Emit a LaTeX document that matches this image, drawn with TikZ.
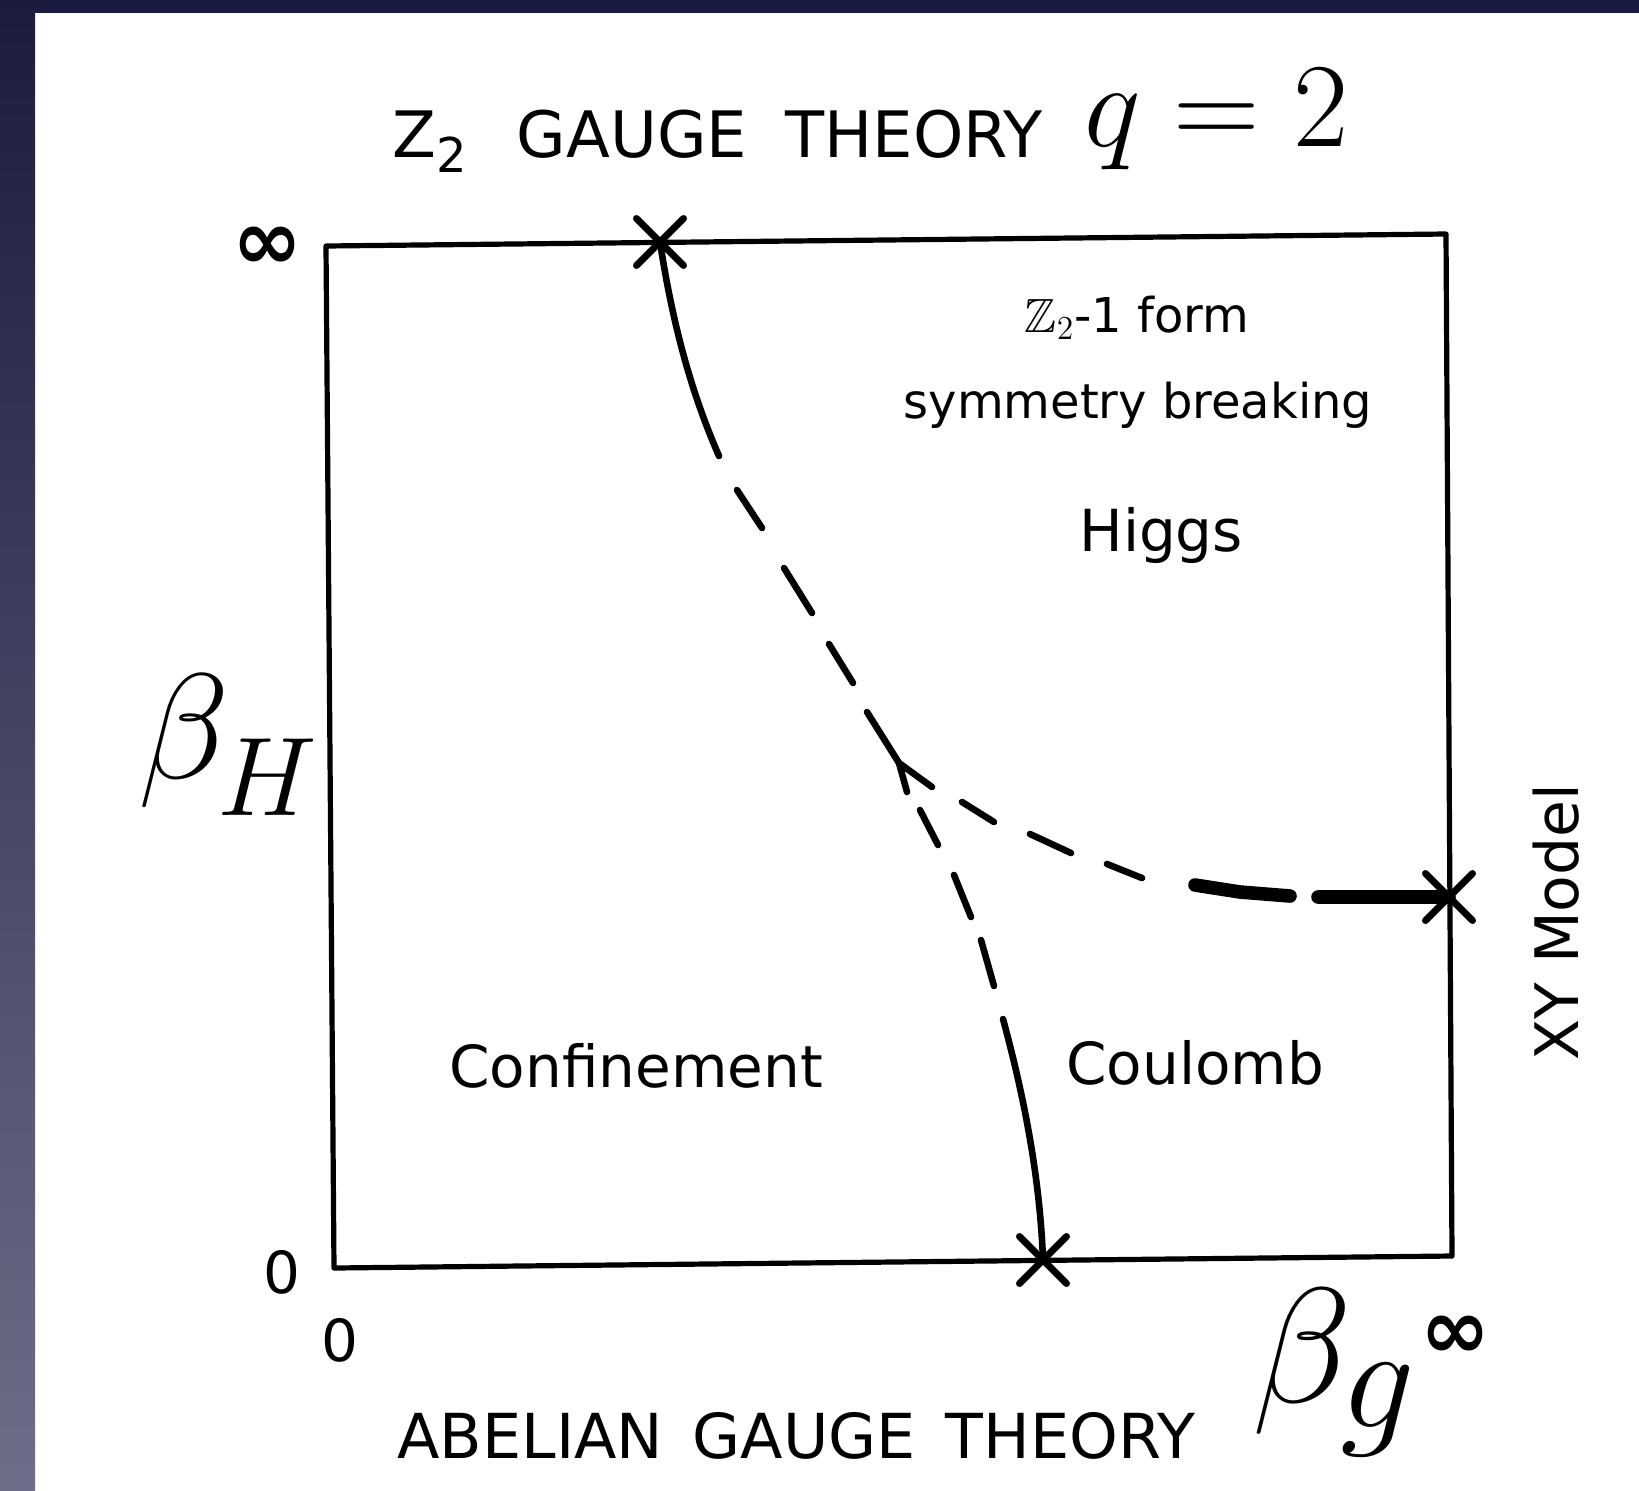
\RequirePackage{fix-cm}
\documentclass[tikz,border=0pt]{standalone}
\usepackage{amssymb}
\usepackage{fontspec}
\usetikzlibrary{shapes.misc}
\newfontfamily\letterfont{DejaVu Sans}
\definecolor{slidenavy}{HTML}{1B1B3F}
\definecolor{slidegrey}{HTML}{6F6E88}

\begin{document}
\begin{tikzpicture}[x=0.5pt, y=-0.5pt,
  every node/.style={inner sep=0pt},
  frame/.style={line width=2.6pt, line join=round},
  phase/.style={line width=3.3pt, line cap=round},
  thickphase/.style={line width=6.8pt, line cap=round},
  critpt/.style={draw, cross out, line width=3.5pt, line cap=round, minimum size=20pt},
  region/.style={font=\letterfont\fontsize{29}{29}\selectfont},
  axistitle/.style={font=\letterfont\fontsize{32}{32}\selectfont},
  infty/.style={font=\letterfont\bfseries\fontsize{42}{42}\selectfont},
  slidenote/.style={font=\letterfont\fontsize{24}{24}\selectfont}]
		% slide background
		\useasboundingbox (0,0) rectangle (1639,1490);
		\fill[white] (0,0) rectangle (1639,1490);
		\fill[slidenavy] (0,0) rectangle (1639,13);
		\shade[top color=slidenavy, bottom color=slidegrey] (0,0) rectangle (35,1490);
		
		% phase diagram frame
		\coordinate (tl) at (326,246);
		\coordinate (tr) at (1446,234);
		\coordinate (br) at (1452,1256);
		\coordinate (bl) at (334,1268);
		\draw[frame] (tl) -- (tr) -- (br) -- (bl) -- cycle;
		
		\node[critpt] (topcrit) at (660,242) {};
		\node[critpt] (botcrit) at (1043,1260) {};
		\node[critpt] (rightcrit) at (1449,897) {};
		
		\coordinate (solidend) at (719,456);
		\coordinate (junc) at (899,763);
		\coordinate (coulstart) at (1003,1019);
		
		% Phase boundaries
		\draw[phase] (topcrit.center) .. controls (672,320) and (690,390) .. (solidend);
		\draw[phase] (737,490) -- (762,528) (784,568) -- (812,613) (829,644) -- (853,683) (867,712) -- (junc) -- (907,792);
		\draw[phase] (920,810) -- (938,845) (954,875) -- (971,917) (981,940) -- (994,986);
		\draw[phase] (coulstart) .. controls (1025,1100) and (1040,1180) .. (botcrit.center);
		\draw[phase] (junc) -- (932,787) (962,802) -- (994,822) (1030,834) -- (1071,853) (1107,864) -- (1142,878);
		\draw[thickphase] (1195,885) -- (1240,892) -- (1290,896) (1318,897) -- (rightcrit.center);
		
		% Labels
		\node[axistitle, anchor=base west] (gaugetop) at (392,157) {Z\raisebox{-7.5pt}{\fontsize{24}{24}\selectfont 2}\hspace{25pt}GAUGE\hspace{9pt} THEORY};
		\node[anchor=base east, font=\fontsize{60}{60}\selectfont] (qval) at (1349,146) {$q=2$};
		\node[anchor=base west, font=\fontsize{75}{75}\selectfont] (betaH) at (138,778) {$\beta$\hspace{-6pt}\raisebox{-18.5pt}{\fontsize{56}{56}\selectfont$H$}};
		\node[anchor=base west, font=\fontsize{82}{82}\selectfont] (betag) at (1252,1402) {$\beta$\hspace{-6pt}\raisebox{-12.5pt}{\fontsize{74}{74}\selectfont$g$}};
		
		\node[slidenote, anchor=base] (formnote) at (1137,332) {$\mathbb{Z}_2$-1 form};
		\node[slidenote, anchor=base] (breaknote) at (1138,418) {symmetry breaking};
		
		\node[region, anchor=base west] (higgs) at (1079,551) {Higgs};
		\node[region, anchor=base west] (confine) at (449,1087) {Confinement};
		\node[region, anchor=base west] (coulomb) at (1066,1084) {Coulomb};
		\node[axistitle, anchor=base west, font=\letterfont\fontsize{31}{31}\selectfont] (gaugebot) at (397,1458) {ABELIAN\hspace{5pt} GAUGE\hspace{5pt} THEORY};
		\node[region, rotate=90, anchor=base west, font=\letterfont\fontsize{30}{30}\selectfont] (xymodel) at (1578,1061) {XY Model};
		
		\node[region] (hzero) at (282,1272) {0};
		\node[region] (gzero) at (340,1340) {0};
		\node[infty] (hinf) at (267,248) {∞};
		\node[infty] (ginf) at (1455,1337) {∞};
	\end{tikzpicture}
\end{document}
